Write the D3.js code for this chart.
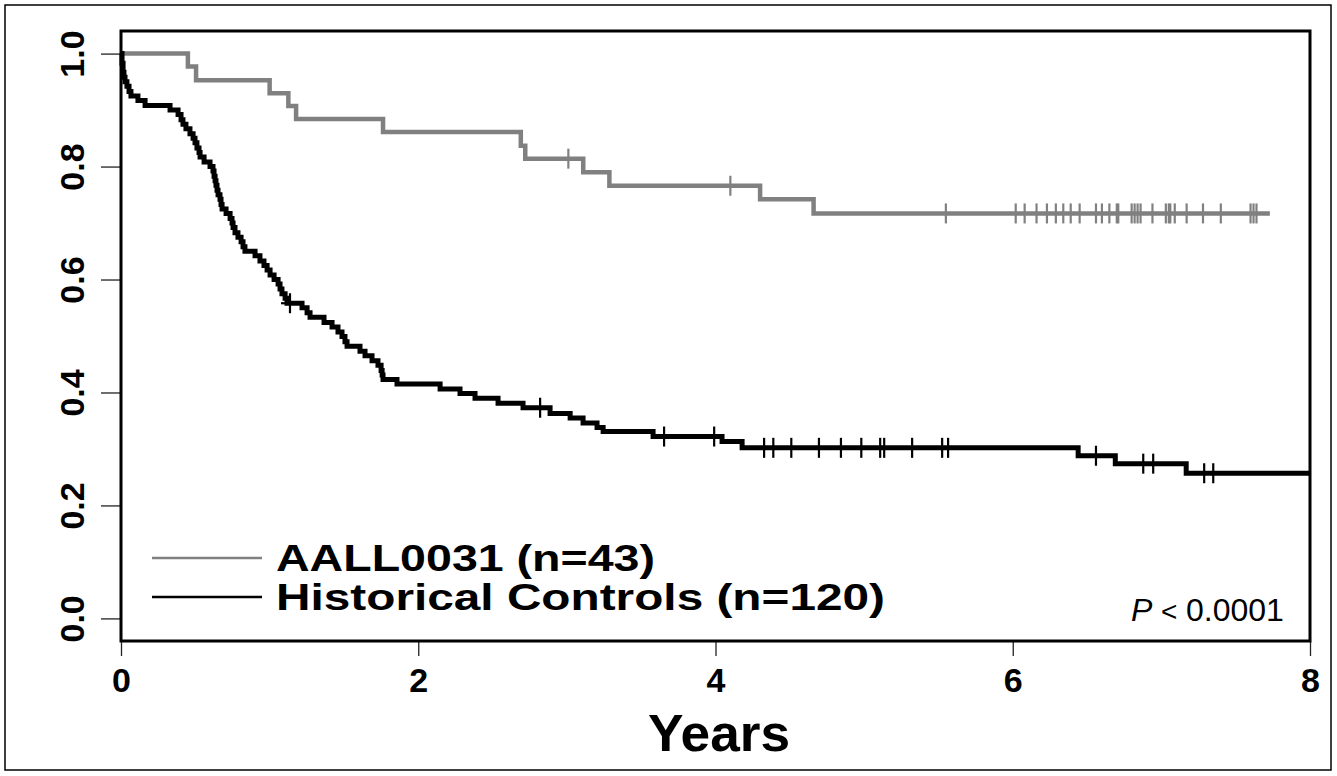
<!DOCTYPE html>
<meta charset="utf-8">
<script src="https://d3js.org/d3.v7.min.js"></script>
<style>
  body { margin: 0; background: #fff; }
  text { font-family: "Liberation Sans", Arial, Helvetica, sans-serif; }
</style>
<div id="km_plot"></div>
<script>

// AALL0031 arm (n=43): step times and survival after each step
var aallTimes = [0, 0.45, 0.505, 1.0, 1.126, 1.178, 1.763, 2.69, 2.72, 3.11, 3.286, 4.30, 4.66, 7.73];
var aallSurv  = [1, 0.977, 0.953, 0.930, 0.907, 0.884, 0.861, 0.837, 0.814, 0.790, 0.766, 0.742, 0.717, 0.717];
var aallCensor = [3.01, 4.10, 5.55, 6.02, 6.08, 6.16, 6.23, 6.29, 6.34, 6.39, 6.45, 6.56, 6.60, 6.65, 6.70, 6.71,
                  6.80, 6.82, 6.84, 6.86, 6.94, 7.03, 7.05, 7.06, 7.09, 7.17, 7.28, 7.40, 7.60, 7.62, 7.64];

// Historical controls (n=120)
var histTimes = [0, 0.007, 0.014, 0.020, 0.027, 0.040, 0.054, 0.067, 0.114, 0.162, 0.330, 0.384, 0.404, 0.417,
                 0.437, 0.464, 0.485, 0.498, 0.511, 0.525, 0.532, 0.559, 0.599, 0.619, 0.626, 0.633, 0.639, 0.646,
                 0.653, 0.666, 0.673, 0.680, 0.707, 0.734, 0.747, 0.754, 0.767, 0.787, 0.808, 0.821, 0.834, 0.902,
                 0.935, 0.962, 0.983, 1.003, 1.030, 1.057, 1.070, 1.083, 1.104, 1.117, 1.218, 1.252, 1.272, 1.366,
                 1.420, 1.460, 1.487, 1.507, 1.521, 1.608, 1.642, 1.689, 1.729, 1.750, 1.757, 1.763, 1.857, 2.147,
                 2.281, 2.382, 2.537, 2.705, 2.887, 3.022, 3.109, 3.203, 3.244, 3.580, 4.044, 4.179, 6.44, 6.69,
                 7.167, 8.0];
var histSurv  = [1, 0.983, 0.967, 0.958, 0.950, 0.942, 0.933, 0.925, 0.917, 0.908, 0.900, 0.892, 0.883, 0.875,
                 0.867, 0.858, 0.850, 0.842, 0.833, 0.825, 0.817, 0.808, 0.800, 0.792, 0.783, 0.775, 0.767, 0.758,
                 0.750, 0.742, 0.733, 0.725, 0.717, 0.708, 0.700, 0.692, 0.683, 0.675, 0.667, 0.658, 0.650, 0.642,
                 0.633, 0.625, 0.617, 0.608, 0.600, 0.592, 0.583, 0.575, 0.567, 0.558, 0.550, 0.541, 0.533, 0.524,
                 0.516, 0.507, 0.499, 0.490, 0.482, 0.473, 0.465, 0.456, 0.448, 0.439, 0.431, 0.423, 0.415, 0.406,
                 0.398, 0.390, 0.381, 0.373, 0.363, 0.355, 0.346, 0.338, 0.331, 0.322, 0.313, 0.302, 0.288, 0.274,
                 0.257, 0.257];
var histCensor = [1.137, 2.820, 3.654, 3.991, 4.327, 4.389, 4.510, 4.696, 4.844, 4.981, 5.108, 5.135, 5.323,
                  5.525, 5.565, 6.56, 6.878, 6.945, 7.288, 7.349];

var xTicks = [0, 2, 4, 6, 8];
var yTicks = [0, 0.2, 0.4, 0.6, 0.8, 1.0];
var legendLabels = ["AALL0031 (n=43)", "Historical Controls (n=120)"];
var pText = "0.0001";

var W = 1337, H = 776;
var margin = {top: 31, right: 27, bottom: 135, left: 121},
    width = 1310 - margin.left,
    height = 641 - margin.top;

var svg = d3.select("#km_plot")
  .append("svg")
    .attr("width", W)
    .attr("height", H);

// outer frame round the whole figure
svg.append("rect")
  .attr("x", 5).attr("y", 5)
  .attr("width", W - 11).attr("height", H - 11)
  .attr("fill", "none")
  .attr("stroke", "#000")
  .attr("stroke-width", 1.5);

var g = svg.append("g")
  .attr("transform", "translate(" + margin.left + "," + margin.top + ")");

var x = d3.scaleLinear().domain([0, 8]).range([0, width]);
var y = d3.scaleLinear().domain([-0.04, 1.04]).range([height, 0]);

// X axis
var xAxis = g.append("g")
  .attr("transform", "translate(0," + height + ")")
  .call(d3.axisBottom(x).tickValues(xTicks).tickSize(15).tickSizeOuter(0).tickFormat(d3.format("d")));
xAxis.select(".domain").remove();
xAxis.selectAll("line").attr("stroke", "#222").attr("stroke-width", 1.3);
xAxis.selectAll("text")
  .attr("y", 27)
  .attr("dy", "0.71em")
  .style("font-size", "34px")
  .style("font-weight", "bold")
  .attr("fill", "#000");

// Y axis
var yAxis = g.append("g")
  .call(d3.axisLeft(y).tickValues(yTicks).tickSize(20).tickSizeOuter(0).tickFormat(d3.format(".1f")));
yAxis.select(".domain").remove();
yAxis.selectAll("line").attr("stroke", "#222").attr("stroke-width", 1.3);
yAxis.selectAll("text")
  .attr("x", 0).attr("y", 0).attr("dy", 0)
  .attr("transform", "translate(-37,0) rotate(-90)")
  .style("text-anchor", "middle")
  .style("font-size", "34px")
  .style("font-weight", "bold")
  .attr("fill", "#000");

// survival curves
var stepLine = d3.line()
  .x(function(d) { return x(d[0]); })
  .y(function(d) { return y(d[1]); })
  .curve(d3.curveStepAfter);

function survAt(times, surv, t) {
  var i = d3.bisectRight(times, t) - 1;
  return surv[Math.max(i, 0)];
}

var curves = [
  {times: aallTimes, surv: aallSurv, censor: aallCensor, color: "#808080", lw: 4.5},
  {times: histTimes, surv: histSurv, censor: histCensor, color: "#000000", lw: 5}
];

curves.forEach(function(c) {
  g.append("path")
    .datum(d3.zip(c.times, c.surv))
    .attr("fill", "none")
    .attr("stroke", c.color)
    .attr("stroke-width", c.lw)
    .attr("d", stepLine);

  var marks = g.append("g").selectAll("g")
    .data(c.censor)
    .enter().append("g")
      .attr("transform", function(t) {
        return "translate(" + x(t) + "," + y(survAt(c.times, c.surv, t)) + ")";
      })
      .attr("stroke", c.color)
      .attr("stroke-width", 2.2);
  marks.append("line").attr("x1", 0).attr("x2", 0).attr("y1", -10).attr("y2", 10);
  marks.append("line").attr("x1", -9).attr("x2", 9).attr("y1", 0).attr("y2", 0);
});

// box round the plotting region
g.append("rect")
  .attr("width", width)
  .attr("height", height)
  .attr("fill", "none")
  .attr("stroke", "#000")
  .attr("stroke-width", 3);

// legend
var legend = g.selectAll(".legend")
  .data(legendLabels)
  .enter().append("g")
    .attr("transform", function(d, i) { return "translate(0," + (558 + i * 39 - margin.top) + ")"; });
legend.append("line")
  .attr("x1", 152 - margin.left).attr("x2", 262 - margin.left)
  .attr("stroke", function(d, i) { return curves[i].color; })
  .attr("stroke-width", 2.5);
legend.append("text")
  .attr("x", 276 - margin.left)
  .attr("dy", "0.36em")
  .attr("textLength", function(d, i) { return i === 0 ? 379 : 609; })
  .attr("lengthAdjust", "spacingAndGlyphs")
  .style("font-size", "36px")
  .style("font-weight", "bold")
  .text(function(d) { return d; });

// p-value: P < 0.0001
var pv = g.append("text")
  .attr("y", 621 - margin.top)
  .style("font-size", "32px");
pv.append("tspan").attr("x", 1131 - margin.left).style("font-style", "italic").text("P");
pv.append("tspan").attr("x", 1161 - margin.left).style("font-size", "28px").text("<");
pv.append("tspan").attr("x", 1186 - margin.left).text(pText);

// axis title
svg.append("text")
  .attr("x", 719)
  .attr("y", 751)
  .attr("textLength", 142)
  .attr("lengthAdjust", "spacingAndGlyphs")
  .style("text-anchor", "middle")
  .style("font-size", "52px")
  .style("font-weight", "bold")
  .text("Years");

</script>
